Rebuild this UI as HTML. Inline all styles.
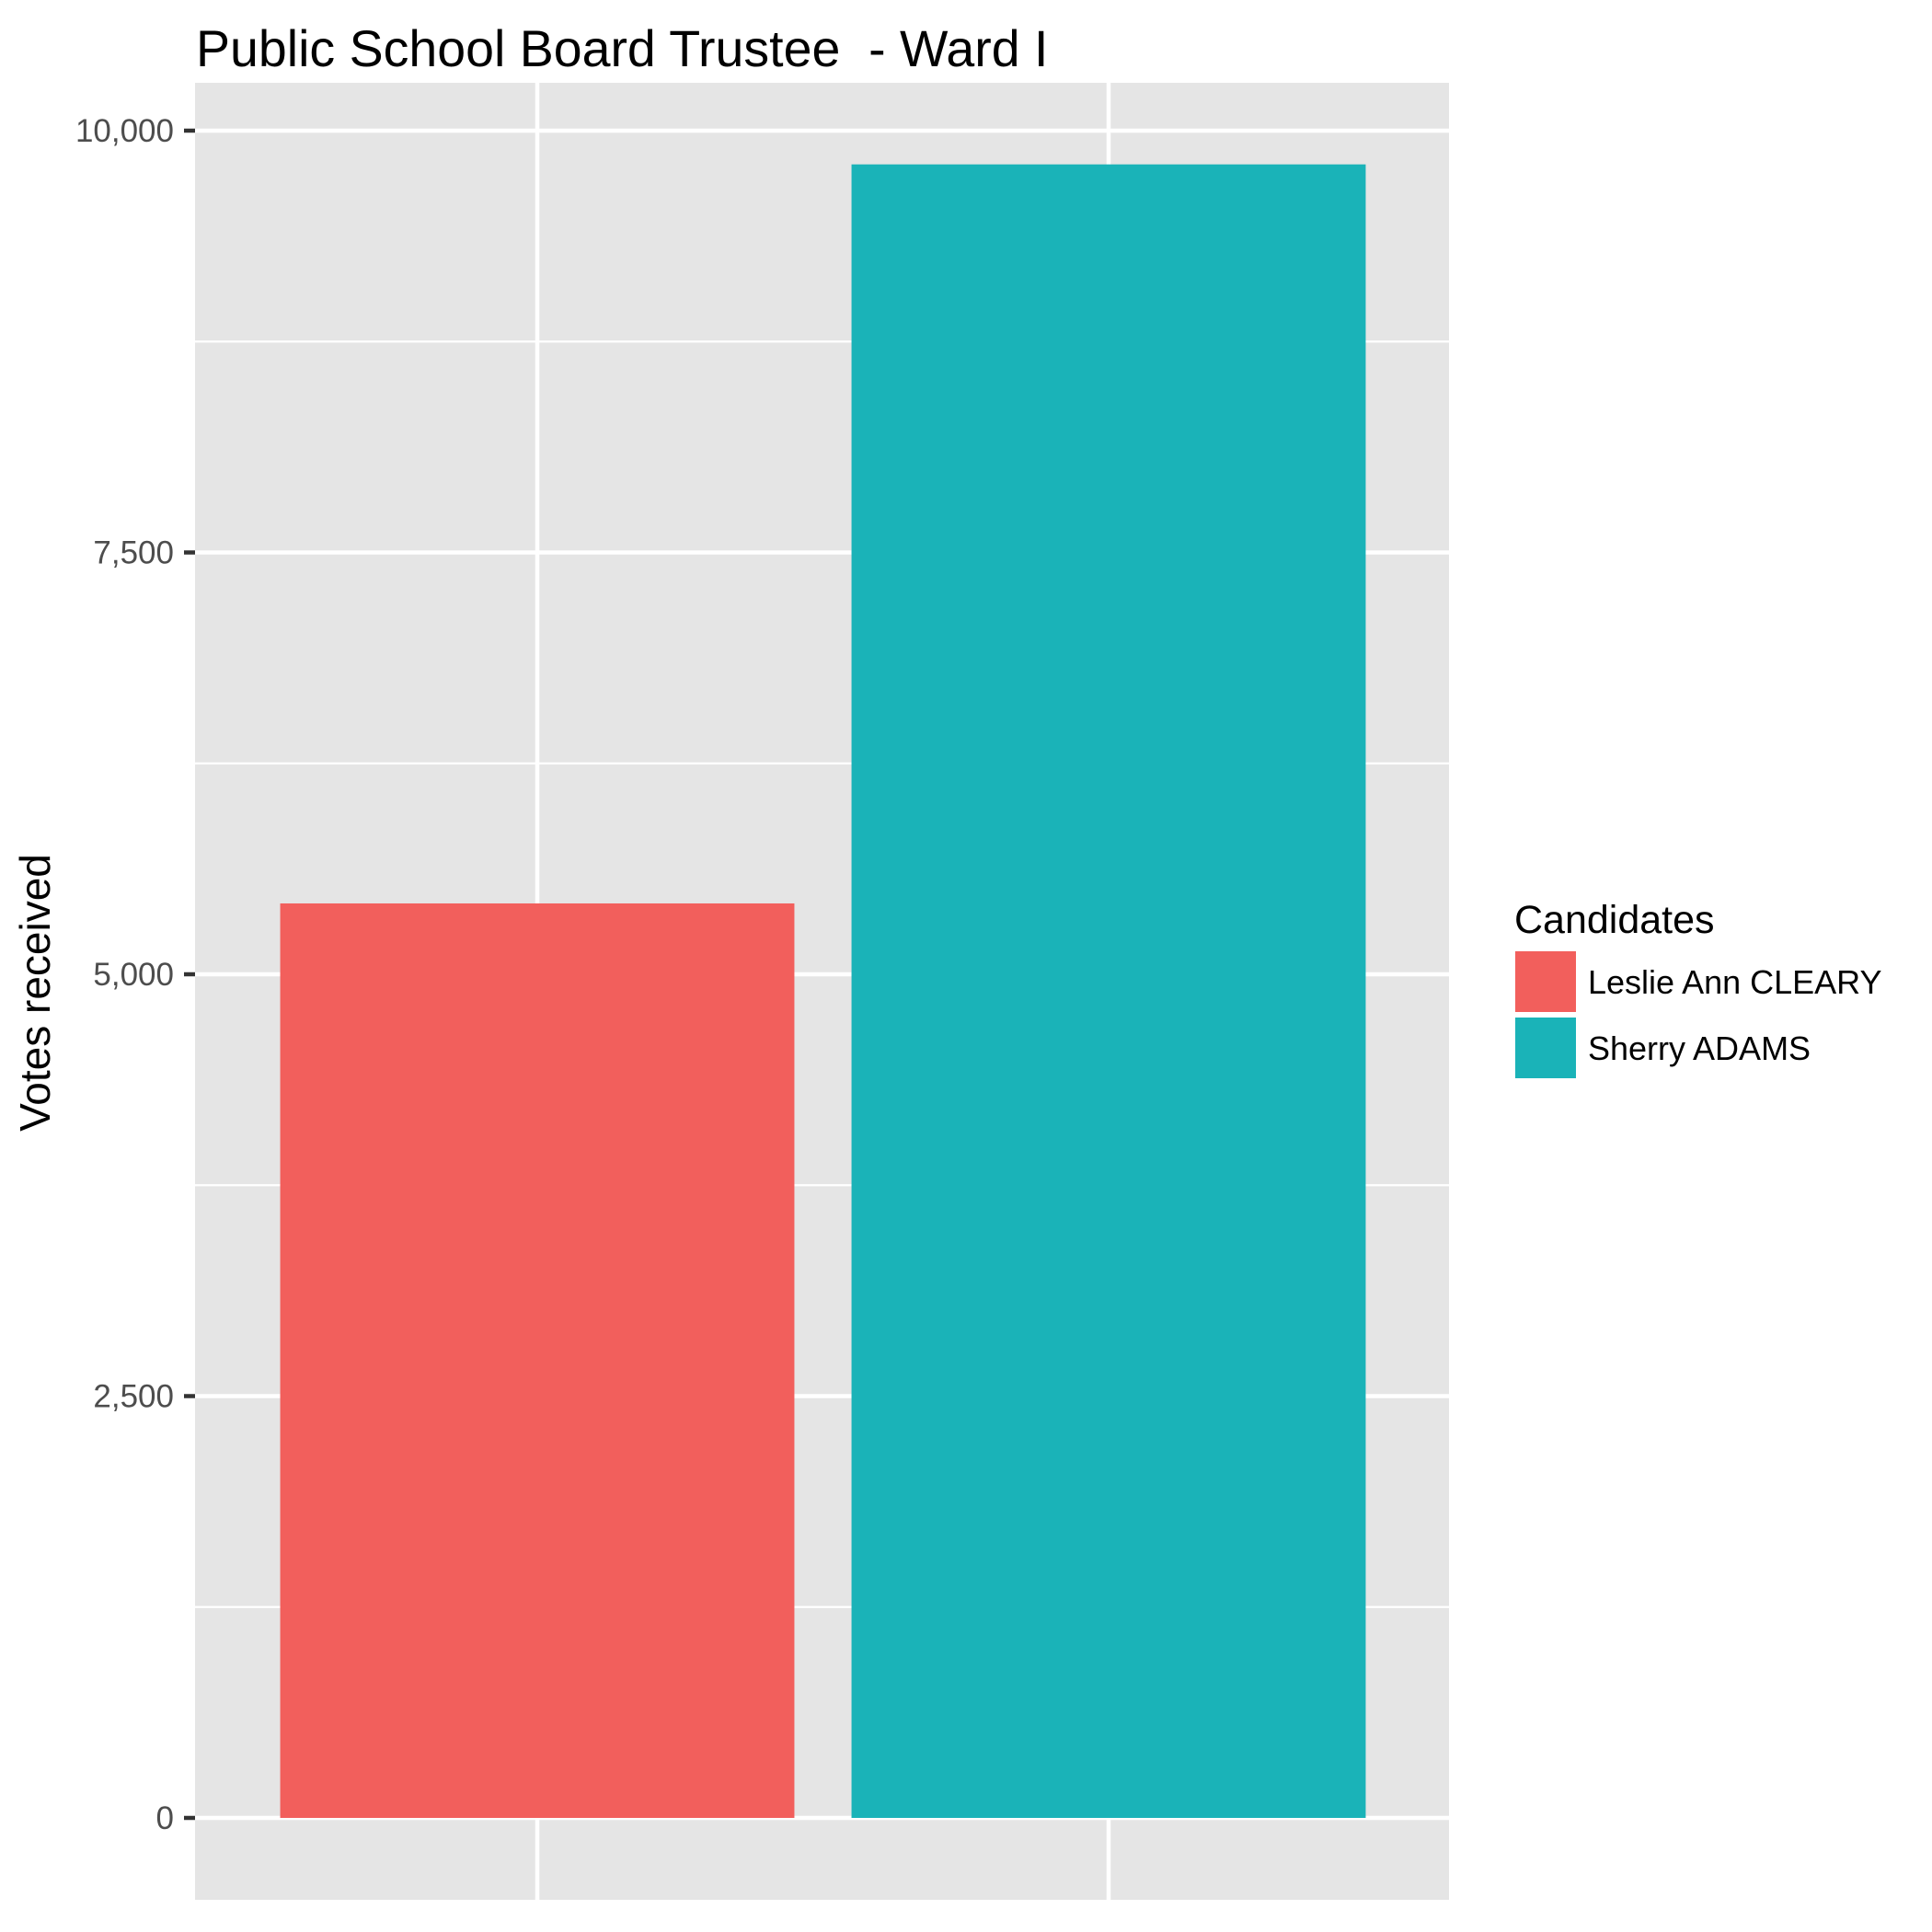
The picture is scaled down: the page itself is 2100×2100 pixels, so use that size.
<!DOCTYPE html>
<html><head><meta charset="utf-8"><style>
html,body{margin:0;padding:0;background:#fff;}
svg{display:block;font-family:"Liberation Sans",Arial,sans-serif;}
</style></head><body>
<svg id="chart" width="2100" height="2100" viewBox="0 0 2100 2100" xmlns="http://www.w3.org/2000/svg">
<text x="213" y="72" font-size="55.5" fill="#000" xml:space="preserve">Public School Board Trustee  - Ward I</text>
<rect x="212" y="90" width="1363" height="1975" fill="#e5e5e5"/>
<g id="grid"></g>
<g id="bars"></g>
<g id="yaxis"></g>
<text transform="translate(54,1079) rotate(-90)" text-anchor="middle" font-size="46" fill="#000">Votes received</text>
<g id="legend">
<text x="1646" y="1014" font-size="43" fill="#000">Candidates</text>
</g>
</svg>
<script>
const categories = ["Leslie Ann CLEARY", "Sherry ADAMS"];
const votes = [5420, 9800];
const colors = ["#f25f5c", "#1ab3b8"];
const yTicks = [0, 2500, 5000, 7500, 10000];
const yTickLabels = ["0", "2,500", "5,000", "7,500", "10,000"];
const yMinor = [1250, 3750, 6250, 8750];

const NS = "http://www.w3.org/2000/svg";
const y0 = 1976, y1 = 142, vMax = 10000;
function yScale(v){ return y0 - (v / vMax) * (y0 - y1); }
const pL = 212, pR = 1575;
const step = 621, firstX = 584;
function xScale(i){ return firstX + i * step; }
const barW = 0.9 * step;
function mk(tag, attrs, parent){ const e = document.createElementNS(NS, tag); for (const k in attrs) e.setAttribute(k, attrs[k]); parent.appendChild(e); return e; }

const grid = document.getElementById('grid');
yMinor.forEach(v => {
  const l = mk('line', {x1:pL, x2:pR, y1:yScale(v), y2:yScale(v), stroke:'#fff', 'stroke-width':2.3}, grid);
  
  
});
yTicks.forEach(v => {
  const l = mk('line', {x1:pL, x2:pR, y1:yScale(v), y2:yScale(v), stroke:'#fff', 'stroke-width':4.5}, grid);
  
  
});
categories.forEach((c, i) => {
  const l = mk('line', {x1:xScale(i), x2:xScale(i), y1:90, y2:2065, stroke:'#fff', 'stroke-width':4.5}, grid);
  
  
});

const bars = document.getElementById('bars');
votes.forEach((v, i) => {
  const r = mk('rect', {x:xScale(i) - barW/2, y:yScale(v), width:barW, height:yScale(0) - yScale(v), fill:colors[i]}, bars);
  
  
});

const ax = document.getElementById('yaxis');
yTicks.forEach((v, i) => {
  const t = mk('line', {x1:200, x2:212, y1:yScale(v), y2:yScale(v), stroke:'#333', 'stroke-width':4.5}, ax);
  
  
  const tx = mk('text', {x:189, y:yScale(v) + 12, 'text-anchor':'end', 'font-size':35, fill:'#4d4d4d'}, ax);
  tx.textContent = yTickLabels[i];
  
  
});

const lg = document.getElementById('legend');
categories.forEach((c, i) => {
  const ky = 1034 + i * 72;
  const k = mk('rect', {x:1647, y:ky, width:66, height:66, fill:colors[i]}, lg);
  
  
  const t = mk('text', {x:1726, y:ky + 46, 'font-size':36, fill:'#000'}, lg);
  t.textContent = c;
  
  
});
</script>
</body></html>
